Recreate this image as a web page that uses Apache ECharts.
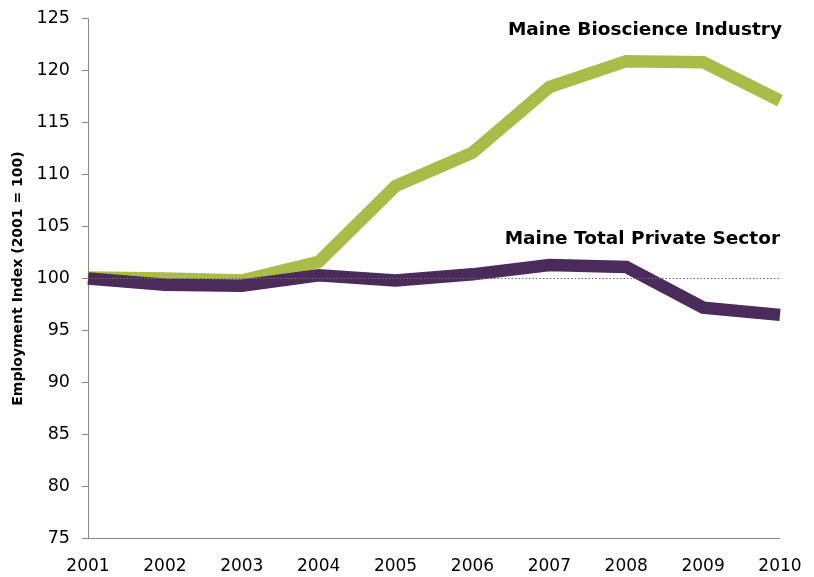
<!DOCTYPE html>
<html><head><meta charset="utf-8">
<script src="https://cdn.jsdelivr.net/npm/echarts@6/dist/echarts.min.js"></script>
<style>html,body{margin:0;padding:0;background:#fff}#c{width:814px;height:577px}</style>
</head><body><div id="c"></div>
<script>
const years = ['2001','2002','2003','2004','2005','2006','2007','2008','2009','2010'];
const bioscience = [100.1, 100.0, 99.8, 101.6, 108.9, 112.1, 118.4, 120.9, 120.8, 117.1];
const privateSector = [100.0, 99.4, 99.3, 100.3, 99.8, 100.4, 101.3, 101.1, 97.2, 96.5];
const yTicks = {min: 75, max: 125, step: 5};
const seriesNames = ['Maine Bioscience Industry', 'Maine Total Private Sector'];
const yTitle = 'Employment Index (2001 = 100)';

const chart = echarts.init(document.getElementById('c'), null, {renderer: 'canvas'});
const font = 'DejaVu Sans, Verdana, sans-serif';
chart.setOption({
  animation: false,
  backgroundColor: '#ffffff',
  grid: {left: 88, right: 34, top: 18.5, bottom: 38.5},
  xAxis: {
    type: 'category', data: years, boundaryGap: false,
    axisLine: {lineStyle: {color: '#868686', width: 1}},
    axisTick: {show: false},
    axisLabel: {color: '#000', fontSize: 17, fontFamily: font, margin: 20}
  },
  yAxis: {
    type: 'value', min: yTicks.min, max: yTicks.max, interval: yTicks.step,
    name: yTitle, nameLocation: 'middle', nameGap: 62,
    nameTextStyle: {color: '#000', fontSize: 14, fontWeight: 'bold', fontFamily: font},
    axisLine: {show: true, lineStyle: {color: '#868686', width: 1}},
    axisTick: {show: true, length: 6, lineStyle: {color: '#868686'}},
    splitLine: {show: false},
    axisLabel: {color: '#000', fontSize: 17.5, fontFamily: font, margin: 18}
  },
  series: [
    {name: seriesNames[0], type: 'line', data: bioscience, symbol: 'none',
     lineStyle: {color: '#A9BC48', width: 12.5, join: 'miter'}, z: 2},
    {name: seriesNames[1], type: 'line', data: privateSector, symbol: 'none',
     lineStyle: {color: '#4B2A5C', width: 12.5, join: 'miter'}, z: 3,
     markLine: {silent: true, symbol: 'none', z: 10, label: {show: false},
       lineStyle: {color: '#6f6f6f', type: [1.5, 2], width: 1.2},
       data: [{yAxis: 100}]}}
  ],
  graphic: [
    {type: 'text', right: 32, top: 21, z: 20,
     style: {text: seriesNames[0], font: 'bold 18.5px ' + font, fill: '#000'}},
    {type: 'text', right: 34, top: 230, z: 20,
     style: {text: seriesNames[1], font: 'bold 18.5px ' + font, fill: '#000'}}
  ]
});
</script></body></html>
